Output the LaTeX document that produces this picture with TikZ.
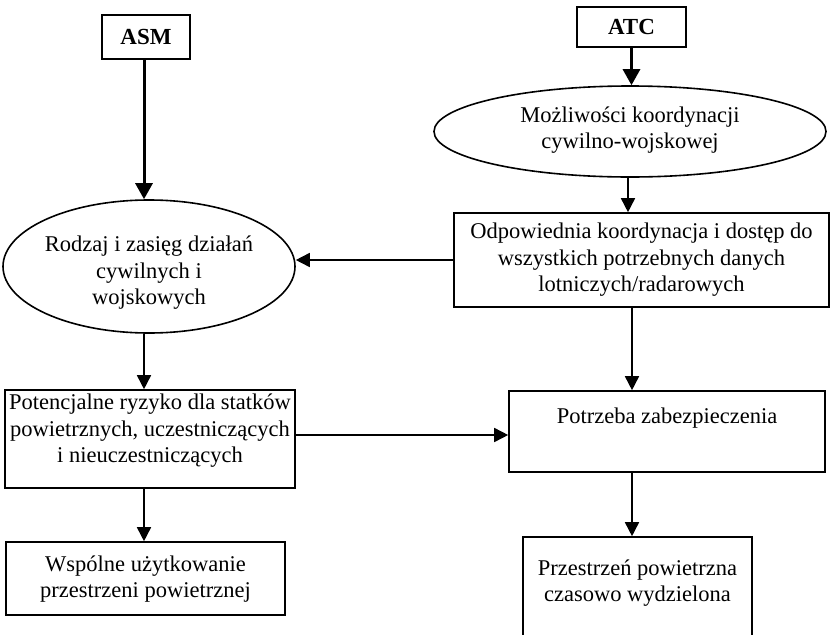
\documentclass[tikz,border=0pt]{standalone}
\usepackage{fontspec}
\setmainfont{Liberation Serif}
\usetikzlibrary{shapes.geometric,arrows.meta}
\begin{document}
\begin{tikzpicture}[x=1pt,y=-1pt,
  box/.style={draw,line width=1.6pt,inner sep=0pt,rectangle},
  oval/.style={draw,ellipse,line width=1.6pt,inner sep=0pt},
  txt/.style={align=center,font=\fontsize{22.5}{26.5}\selectfont,inner sep=0pt},
  head/.style={align=center,font=\fontsize{23}{26}\selectfont\bfseries,inner sep=0pt},
  arr/.style={line width=1.6pt,-{Triangle[length=14pt,width=14pt]}},
  bigarr/.style={line width=3pt,-{Triangle[length=16pt,width=17pt]}}]
\useasboundingbox[fill=white] (0,0) rectangle (831,635);
% nodes
\node[box,head,minimum width=88pt,minimum height=44pt] (asm) at (146,37) {ASM};
\node[box,head,minimum width=109pt,minimum height=40pt] (atc) at (631.5,27) {ATC};
\node[oval,minimum width=392pt,minimum height=91pt] (mozl) at (630,131.5) {};
\node[txt] (mozlt) at (630,130) {Możliwości koordynacji\\cywilno-wojskowej};
\node[box,minimum width=375pt,minimum height=94pt] (odp) at (641.5,260) {};
\node[txt] (odpt) at (641.5,260) {Odpowiednia koordynacja i dostęp do\\wszystkich potrzebnych danych\\lotniczych/radarowych};
\node[oval,minimum width=292pt,minimum height=133pt] (rodz) at (149,266.5) {};
\node[txt] (rodzt) at (149,273) {Rodzaj i zasięg działań\\cywilnych i\\wojskowych};
\node[box,minimum width=290pt,minimum height=98pt] (pot) at (150,439) {};
\node[txt] (pott) at (150,431) {Potencjalne ryzyko dla statków\\powietrznych, uczestniczących\\i nieuczestniczących};
\node[box,minimum width=316pt,minimum height=81pt] (potz) at (667,431.5) {};
\node[txt] (potzt) at (667,418) {Potrzeba zabezpieczenia};
\node[box,minimum width=279pt,minimum height=73pt] (wsp) at (145.5,578.5) {};
\node[txt] (wspt) at (145.5,579) {Wspólne użytkowanie\\przestrzeni powietrznej};
\node[box,minimum width=229pt,minimum height=163pt] (prz) at (637.5,618.5) {};
\node[txt] (przt) at (637.5,583) {Przestrzeń powietrzna\\czasowo wydzielona};
\coordinate (colR) at (632,0);
\coordinate (colL) at (144,0);
% connectors
\draw[bigarr] (asm.south -| colL) -- (rodz.north -| colL);
\draw[bigarr] (atc.south) -- (atc.south |- mozl.north);
\draw[arr] (mozl.south -| 628,0) -- (odp.north -| 628,0);
\draw[arr] (odp.west) -- (odp.west -| rodz.east);
\draw[arr] (odp.south -| colR) -- (potz.north -| colR);
\draw[arr] (rodz.south -| colL) -- (pot.north -| colL);
\draw[arr] ([yshift=4pt]pot.east) -- ([yshift=4pt]pot.east -| potz.west);
\draw[arr] (pot.south -| colL) -- (wsp.north -| colL);
\draw[arr] (potz.south -| colR) -- (prz.north -| colR);
\end{tikzpicture}
\end{document}
